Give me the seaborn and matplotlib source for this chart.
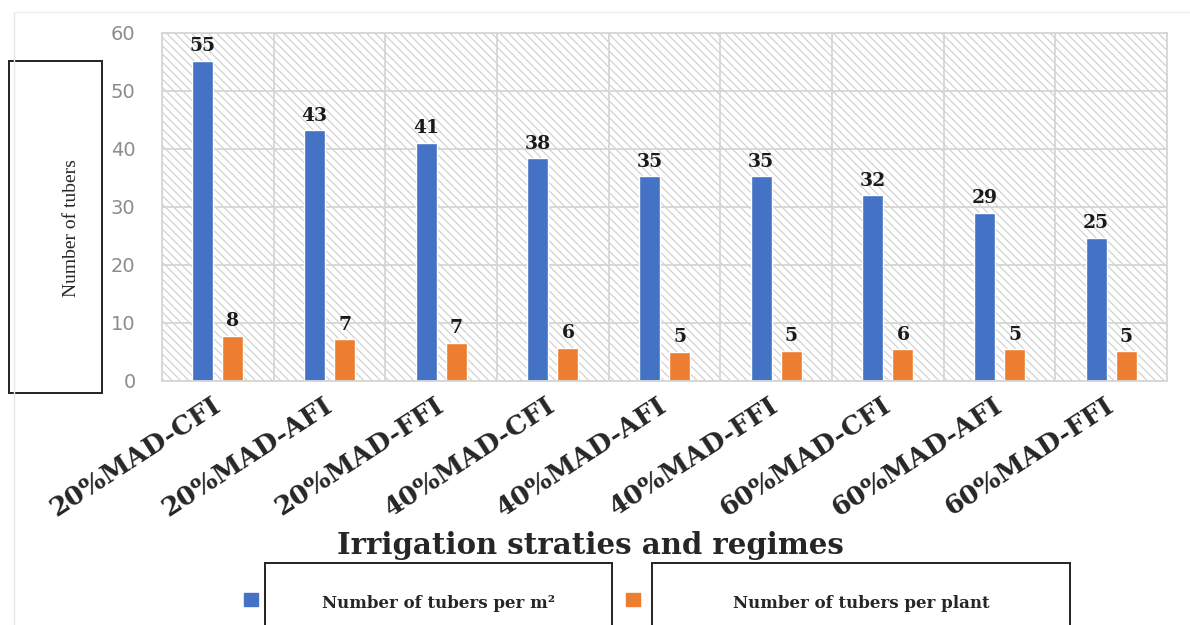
import matplotlib
matplotlib.use("Agg")
import matplotlib.pyplot as plt
from matplotlib.patches import Rectangle
from matplotlib.lines import Line2D
import numpy as np
import pandas as pd
import seaborn as sns

# data
strategies = ["20%MAD-CFI", "20%MAD-AFI", "20%MAD-FFI",
              "40%MAD-CFI", "40%MAD-AFI", "40%MAD-FFI",
              "60%MAD-CFI", "60%MAD-AFI", "60%MAD-FFI"]
tubers_per_m2 = [55.2, 43.2, 41.1, 38.4, 35.3, 35.3, 32.0, 29.0, 24.7]
tubers_per_plant = [7.8, 7.2, 6.6, 5.7, 5.0, 5.2, 5.5, 5.5, 5.1]
labels_m2 = ["55", "43", "41", "38", "35", "35", "32", "29", "25"]
labels_plant = ["8", "7", "7", "6", "5", "5", "6", "5", "5"]
series = ["Number of tubers per m\u00b2", "Number of tubers per plant"]
colors = ["#4472C4", "#ED7D31"]

df = pd.DataFrame({
    "strategy": strategies * 2,
    "value": tubers_per_m2 + tubers_per_plant,
    "series": [series[0]] * len(strategies) + [series[1]] * len(strategies),
})

sns.set_style("white")
plt.rcParams["hatch.linewidth"] = 0.8
plt.rcParams["hatch.color"] = "#cdcdcd"

fig = plt.figure(figsize=(11.9, 6.25), dpi=100)
ax = fig.add_axes([162 / 1190, 1 - 381 / 625, 1005 / 1190, 348 / 625])

# hatched plot background
ax.add_patch(Rectangle((0, 0), 1, 1, transform=ax.transAxes, facecolor="white",
                       edgecolor="#cdcdcd", hatch="\\\\\\\\", lw=0, zorder=0.1))

sns.barplot(data=df, x="strategy", y="value", hue="series", order=strategies,
            hue_order=series, palette=colors, width=0.54, gap=0.3,
            saturation=1, legend=False, ax=ax, zorder=2)

for cont, labs in zip(ax.containers, [labels_m2, labels_plant]):
    ax.bar_label(cont, labels=labs, padding=4, fontsize=13.5, fontweight="bold",
                 family="DejaVu Serif", color="#1a1a1a")

ax.set_ylim(0, 60)
ax.set_xlim(-0.5, len(strategies) - 0.5)
ax.set_yticks(range(0, 61, 10))
ax.set_xticks(np.arange(-0.5, len(strategies), 1), minor=True)
ax.set_axisbelow(True)
ax.grid(axis="y", which="major", color="#d6d6d6", lw=1.3)
ax.grid(axis="x", which="minor", color="#d6d6d6", lw=1.3)
ax.grid(axis="x", which="major", visible=False)
for sp in ax.spines.values():
    sp.set_color("#d6d6d6")
    sp.set_linewidth(1.3)

ax.tick_params(axis="both", which="both", length=0)
ax.tick_params(axis="y", pad=19, labelsize=14, labelcolor="#8c8c8c")
ax.set_xlabel("")
ax.set_xticks(range(len(strategies)))
ax.set_xticklabels(strategies, rotation=33, ha="right", va="center",
                   rotation_mode="anchor", fontsize=19, fontweight="bold",
                   family="DejaVu Serif")
ax.tick_params(axis="x", pad=16)

ax.set_ylabel("Number of tubers", family="Liberation Serif", fontsize=14)
ax.yaxis.label.set_va("center")
ax.yaxis.set_label_coords((72 - 162) / 1005, (381 - 228) / 348)

# box around the y-axis title
fig.add_artist(Rectangle((9 / 1190, 1 - 393 / 625), 93 / 1190, 332 / 625,
                         transform=fig.transFigure, fill=False,
                         edgecolor="#222222", lw=1.4))

# faint page frame
fig.add_artist(Line2D([14 / 1190, 14 / 1190], [0, 1 - 12 / 625],
                      transform=fig.transFigure, color="#e6e6e6", lw=1))
fig.add_artist(Line2D([14 / 1190, 1], [1 - 12 / 625, 1 - 12 / 625],
                      transform=fig.transFigure, color="#f0f0f0", lw=1))

fig.text(590 / 1190, 1 - 546 / 625, "Irrigation straties and regimes",
         ha="center", va="center", fontsize=21, fontweight="bold",
         family="DejaVu Serif")

# legend: swatches with the series names inside white boxes
boxes = [(265, 612), (652, 1070)]
swatch_x = [244, 626]
for i, (name, col) in enumerate(zip(series, colors)):
    x0, x1 = boxes[i]
    fig.add_artist(Rectangle((x0 / 1190, -0.05), (x1 - x0) / 1190,
                             0.05 + (625 - 563) / 625,
                             transform=fig.transFigure, facecolor="white",
                             edgecolor="#222222", lw=1.4, zorder=4))
    handle = Rectangle((0, 0), 1, 1, color=col)
    fig.legend([handle], [""], loc="center left",
               bbox_to_anchor=(swatch_x[i] / 1190, 1 - 601 / 625),
               frameon=False, handlelength=0.75, handleheight=0.75,
               borderpad=0, borderaxespad=0, handletextpad=0, fontsize=13)
    fig.text((x0 + x1) / 2 / 1190, 1 - 603 / 625, name, ha="center",
             va="center", fontsize=12, fontweight="bold",
             family="DejaVu Serif", zorder=5)

fig.savefig("out.png", dpi=100, facecolor="white")
